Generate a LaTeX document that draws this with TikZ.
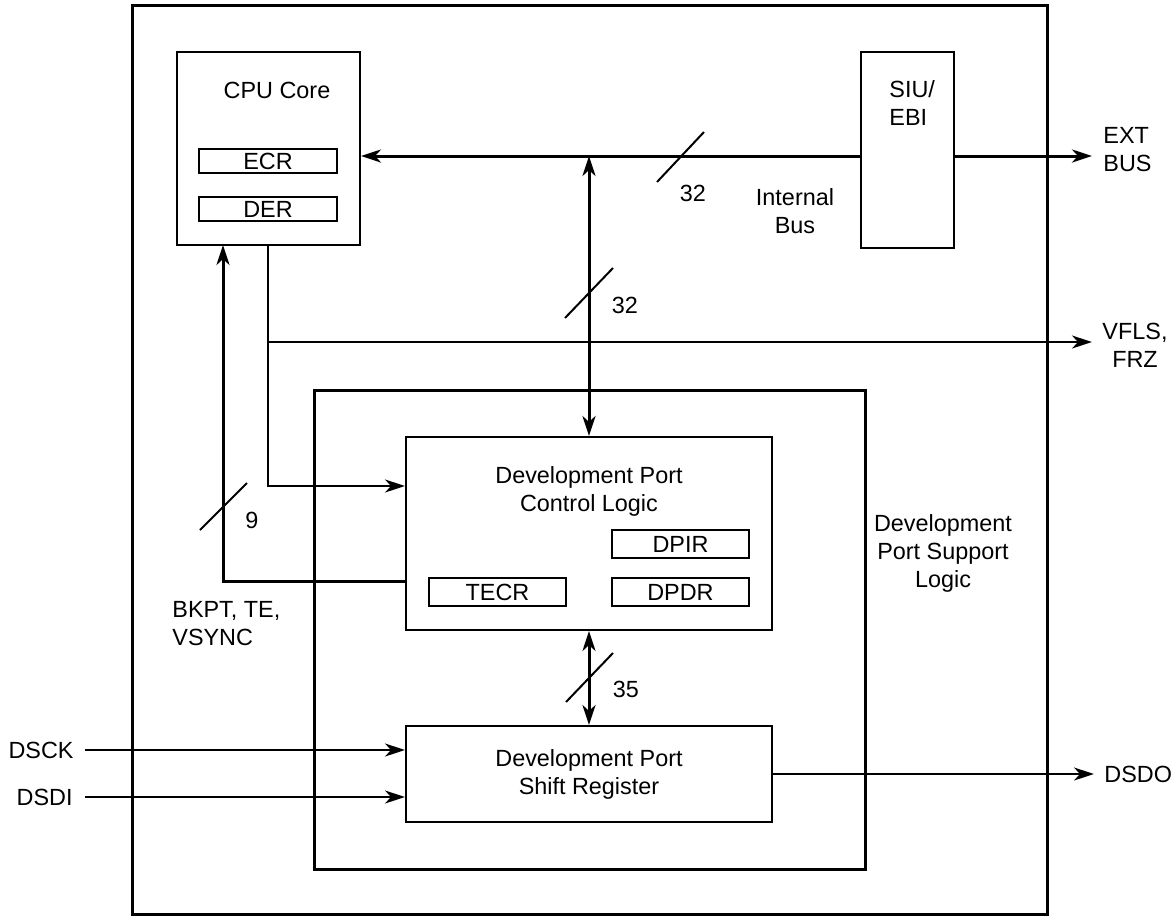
\documentclass[tikz,border=0pt]{standalone}
\usepackage{fontspec}
\setmainfont{Liberation Sans}
\usetikzlibrary{arrows.meta}
\begin{document}
\begin{tikzpicture}[x=0.5pt,y=-0.5pt,
  lbl/.style={font=\fontsize{11.7pt}{14pt}\selectfont, inner sep=0pt, align=center},
  blk/.style={draw, line width=1pt, inner sep=0pt, font=\fontsize{11.7pt}{14pt}\selectfont},
  bigblk/.style={draw, line width=1.5pt, inner sep=0pt},
  busline/.style={line width=1.5pt},
  sigline/.style={line width=1pt},
  slashline/.style={line width=1pt},
  tip/.style={-{Stealth[length=10pt,width=6.5pt,inset=3pt]}},
  dtip/.style={{Stealth[length=10pt,width=6.5pt,inset=3pt]}-{Stealth[length=10pt,width=6.5pt,inset=3pt]}}
]
\useasboundingbox (0,0) rectangle (1175,917);

% blocks
\node[bigblk, minimum width=457.5pt, minimum height=454.5pt] (outer) at (589.5,459.5) {};
\node[blk, minimum width=91.5pt, minimum height=96.5pt] (cpu) at (268.5,148.5) {};
\node[lbl] (cputxt) at (277,90) {CPU Core};
\node[blk, minimum width=69pt, minimum height=12pt] (ecr) at (268,161) {ECR};
\node[blk, minimum width=69pt, minimum height=12pt] (der) at (268,209) {DER};
\node[blk, minimum width=46.5pt, minimum height=98pt] (siu) at (907.5,150) {};
\node[lbl, align=left, anchor=west] (siutxt) at (889,103) {SIU/\\EBI};
\node[bigblk, minimum width=275.5pt, minimum height=239.5pt] (support) at (589.5,629.5) {};
\node[lbl] (supporttxt) at (943,553) {Development\\Port Support\\Logic};
\node[blk, minimum width=183pt, minimum height=96.5pt] (dpcl) at (589,533.5) {};
\node[lbl] (dpcltxt) at (589,491) {Development Port\\Control Logic};
\node[blk, minimum width=68.5pt, minimum height=14pt] (dpir) at (680.5,544) {DPIR};
\node[blk, minimum width=68.5pt, minimum height=14pt] (dpdr) at (680.5,592) {DPDR};
\node[blk, minimum width=68.5pt, minimum height=14pt] (tecr) at (497.5,592) {TECR};
\node[blk, minimum width=183pt, minimum height=48pt, align=center] (dpsr) at (589,774) {Development Port\\Shift Register};

% coordinates
\coordinate (ib) at (0,156);
\coordinate (extend) at (1092,156);
\coordinate (cpuout) at (268,245);
\coordinate (vflsbr) at (268,342);
\coordinate (vflsend) at (1092,342);
\coordinate (bkin) at (223,245);
\coordinate (bkcorner) at (223,581);
\coordinate (bksrc) at (406,581);
\coordinate (dsckstart) at (85,750);
\coordinate (dsdistart) at (85,797);
\coordinate (dsdoend) at (1094,774);

% labels
\node[lbl, align=left, anchor=west] (extbus) at (1103,150) {EXT\\BUS};
\node[lbl] (vfls) at (1135,345) {VFLS,\\FRZ};
\node[lbl] (ibus) at (795,211) {Internal\\Bus};
\node[lbl] (n32a) at (693,193) {32};
\node[lbl] (n32b) at (625,305) {32};
\node[lbl] (n9) at (252,520) {9};
\node[lbl] (n35) at (626,689) {35};
\node[lbl, align=left, anchor=west] (bkpt) at (172,624) {BKPT, TE,\\VSYNC};
\node[lbl, anchor=east] (dsck) at (74,750) {DSCK};
\node[lbl, anchor=east] (dsdi) at (73,797) {DSDI};
\node[lbl, anchor=west] (dsdo) at (1104,774) {DSDO};

% internal bus
\draw[busline, tip] (siu.west |- ib) -- (cpu.east |- ib);
\draw[busline, tip] (siu.east |- ib) -- (extend);
\draw[busline, dtip] (dpcl.north |- ib) -- (dpcl.north);
\draw[slashline] (657,182) -- (704,132);
\draw[slashline] (565,318) -- (613,268);

% CPU to DPCL and VFLS
\draw[sigline, tip] (cpuout) -- (cpuout |- 0,486) -- (dpcl.west |- 0,486);
\draw[sigline, tip] (vflsbr) -- (vflsend);

% BKPT bus
\draw[busline, tip] (bksrc) -- (bkcorner) -- (bkin);
\draw[slashline] (200,530) -- (247,483);

% 35 bus
\draw[busline, dtip] (dpcl.south) -- (dpsr.north);
\draw[slashline] (566,702) -- (613,653);

% serial port
\draw[sigline, tip] (dsckstart) -- (dpsr.west |- dsckstart);
\draw[sigline, tip] (dsdistart) -- (dpsr.west |- dsdistart);
\draw[sigline, tip] (dpsr.east) -- (dsdoend);
\end{tikzpicture}
\end{document}
